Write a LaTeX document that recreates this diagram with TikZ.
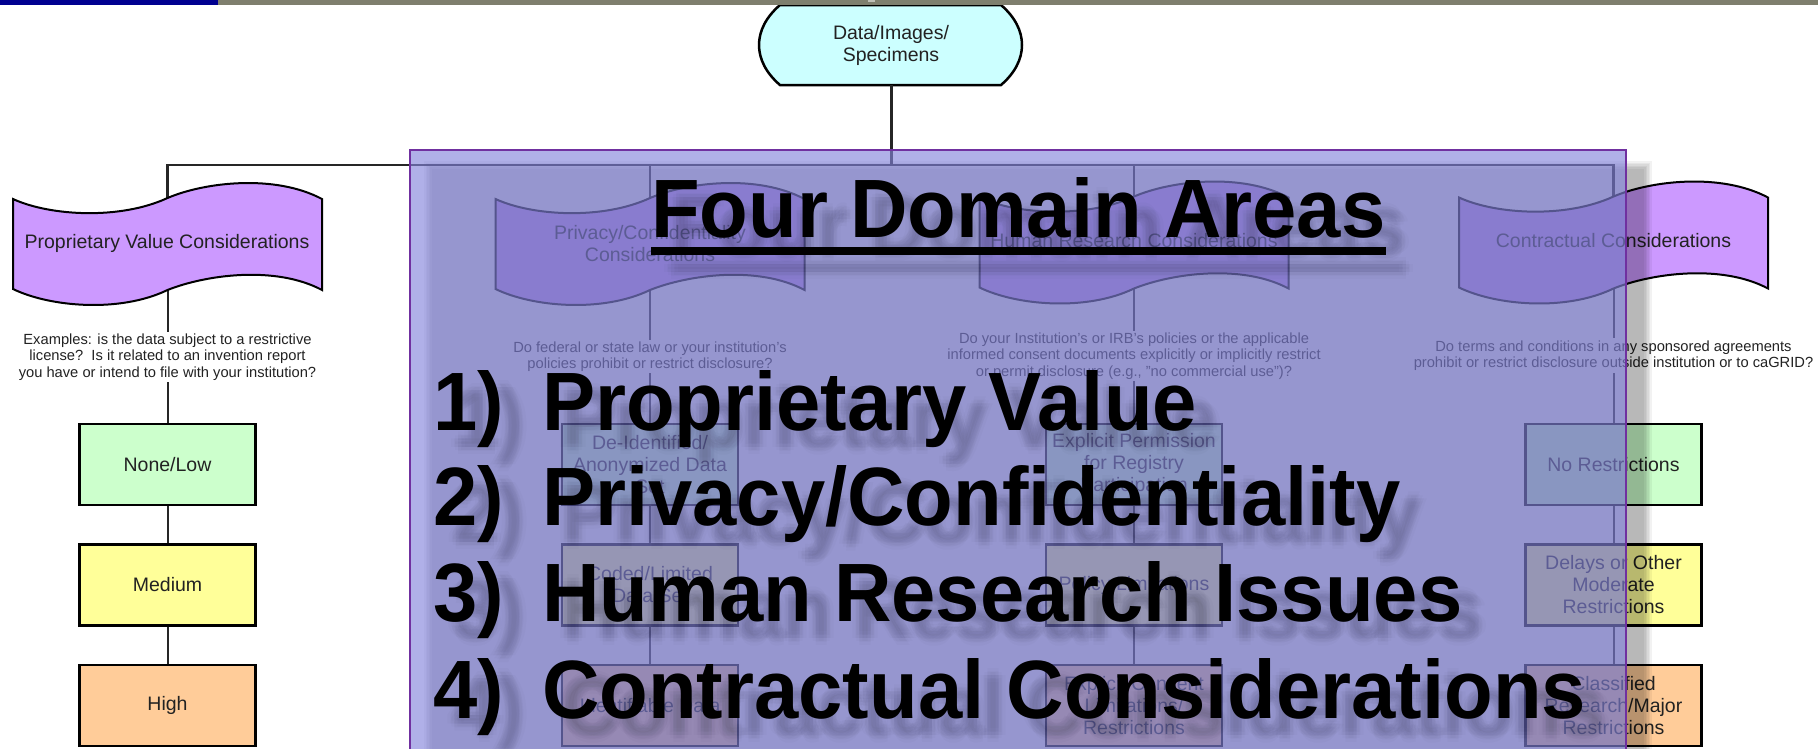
\documentclass[tikz,border=0pt]{standalone}
\usepackage{fontspec}
\usepackage{graphicx}
\setmainfont{Liberation Sans}
\definecolor{termfill}{HTML}{CCFFFF}
\definecolor{wavefill}{HTML}{CC99FF}
\definecolor{lowfill}{HTML}{CCFFCC}
\definecolor{medfill}{HTML}{FFFF99}
\definecolor{highfill}{HTML}{FFCC99}
\definecolor{navybar}{HTML}{000090}
\definecolor{olivebar}{HTML}{7F7F6E}
\definecolor{veil}{RGB}{132,132,220}
\definecolor{veilline}{HTML}{7030A0}
\definecolor{inktext}{HTML}{222222}
\tikzset{
  labelfont/.style={font=\fontsize{19.5}{22}\selectfont,align=center,text=inktext,inner sep=0pt},
  notefont/.style={font=\fontsize{14.7}{16.3}\selectfont,align=center,text=inktext,inner sep=0pt,minimum width=300pt},
  levelbox/.style={draw=black,line width=2.5pt,labelfont,minimum width=176pt,minimum height=81pt},
  wavelabel/.style={labelfont,minimum width=308pt,minimum height=92pt},
  wireline/.style={draw=black!85,line width=2pt},
  bigtext/.style={font=\fontsize{79.6}{90}\selectfont\bfseries,anchor=base west,inner sep=0pt,text=black},
}
\newcommand{\talltext}[1]{\scalebox{1}[1.04]{#1}}
% wave banner: #1 centre x, #2 centre y
\newcommand{\bannerwave}[2]{%
  \begin{scope}[shift={(#1-154.5,#2-244)}]
  \draw[fill=wavefill,draw=black,line width=2pt,line join=miter]
    (0,199) .. controls (37,216) and (107,220) .. (154.5,198)
            .. controls (192,182) and (262,174) .. (309,199)
    -- (309,290) .. controls (262,265) and (192,275) .. (154.5,290)
            .. controls (107,313) and (37,307) .. (0,289) -- cycle;
  \end{scope}}
\newcommand{\overtext}{%
  \node[bigtext] (title) at (651,237) {\talltext{Four Domain Areas}};
  \fill (651,247) rectangle (1386,255);
  \node[bigtext] (itemone) at (433,430) {\talltext{\makebox[109pt][l]{1)}Proprietary Value}};
  \node[bigtext] (itemtwo) at (433,525.7) {\talltext{\makebox[109pt][l]{2)}Privacy/Confidentiality}};
  \node[bigtext] (itemthree) at (433,621.7) {\talltext{\makebox[109pt][l]{3)}Human Research Issues}};
  \node[bigtext] (itemfour) at (433,718) {\talltext{\makebox[109pt][l]{4)}Contractual Considerations}};
}
\begin{document}
\begin{tikzpicture}[x=1pt,y=-1pt]
\path[use as bounding box,clip] (0,0) rectangle (1818,748);
\fill[white] (0,0) rectangle (1818,748);
% terminator
\draw[fill=termfill,draw=black,line width=2.5pt]
  (780,5) -- (1001,5) .. controls (1015,17) and (1022,31) .. (1022,45)
  .. controls (1022,59) and (1015,73) .. (1001,85) -- (780,85)
  .. controls (766,73) and (759,59) .. (759,45)
  .. controls (759,31) and (766,17) .. (780,5) -- cycle;
\node[labelfont,minimum width=220pt,minimum height=80pt] (source) at (891,45) {Data/Images/\\Specimens};
\coordinate (bus) at (891,165);
% named wave anchors
\node[wavelabel] (wavea) at (167.5,244) {};
\node[wavelabel] (waveb) at (650,244) {};
\node[wavelabel] (wavec) at (1134,242.5) {};
\node[wavelabel] (waved) at (1613.5,242.5) {};
% notes
\node[notefont,minimum height=50pt] (notea) at (167.5,357) {Examples: is the data subject to a restrictive\\license?\ \ Is it related to an invention report\\you have or intend to file with your institution?};
\node[notefont,minimum height=33pt] (noteb) at (650,356.5) {Do federal or state law or your institution's\\policies prohibit or restrict disclosure?};
\node[notefont,minimum height=50pt] (notec) at (1134,356) {Do your Institution's or IRB's policies or the applicable\\informed consent documents explicitly or implicitly restrict\\or permit disclosure (e.g., "no commercial use")?};
\node[notefont,minimum height=35pt] (noted) at (1613.5,355.5) {Do terms and conditions in any sponsored agreements\\prohibit or restrict disclosure outside institution or to caGRID?};
% boxes
\foreach \col/\c/\ta/\tb/\tc in {
  a/167.5/None{/}Low/Medium/High,
  b/650/De-Identified{/}\\Anonymized Data\\Set/Coded{/}Limited\\Data Set/Identifiable Data,
  c/1134/Explicit Permission\\for Registry\\Participation/Policy Limitations/Explicit Consent\\Limitations{/}\\Restrictions,
  d/1613.5/No Restrictions/Delays or Other\\Moderate\\Restrictions/Classified\\Research{/}Major\\Restrictions}{
  \node[levelbox,fill=lowfill] (\col one) at (\c,464.5) {\ta};
  \node[levelbox,fill=medfill] (\col two) at (\c,585) {\tb};
  \node[levelbox,fill=highfill] (\col three) at (\c,705.5) {\tc};
}
% connectors
\draw[wireline,line width=3pt] (source.south) -- (bus);
\draw[wireline,line width=2.5pt] (wavea.north) |- (bus) -| (waved.north);
\draw[wireline,line width=2.5pt] (waveb.north |- bus) -- (waveb.north);
\draw[wireline,line width=2.5pt] (wavec.north |- bus) -- (wavec.north);
\foreach \col in {a,b,c,d}{
  \draw[wireline] (wave\col.south) -- (note\col.north);
  \draw[wireline] (note\col.south) -- (\col one.north);
  \draw[wireline] (\col one.south) -- (\col two.north);
  \draw[wireline] (\col two.south) -- (\col three.north);
}
% waves over connectors
\bannerwave{167.5}{244}
\bannerwave{650}{244}
\bannerwave{1134}{242.5}
\bannerwave{1613.5}{242.5}
\node[labelfont] (labela) at (167,243) {Proprietary Value Considerations};
\node[labelfont] (labelb) at (650,244) {Privacy/Confidentiality\\Considerations};
\node[labelfont] (labelc) at (1134,241) {Human Research Considerations};
\node[labelfont] (labeld) at (1613.5,241) {Contractual Considerations};
% top bar
\fill[olivebar] (218,0) rectangle (1818,5);
\fill[navybar] (0,0) rectangle (218,5);
\fill[white,opacity=.5] (868,0) rectangle (875,1.5);
% blurred shadow of the veil
\foreach \g in {-4,-2.4,-0.8,0.8,2.4,4}{
  \fill[black,opacity=.05] (428+\g,165+\g) rectangle (1648-\g,760);
}
% veil
\draw[draw=veilline,line width=2pt,fill=veil,fill opacity=.64] (410,150) rectangle (1626,760);
% blurred shadow of the big text
\foreach \dx/\dy in {20/17,16/17,24/17,20/13,20/21,17/14,23/14,17/20,23/20,13/17,27/17,20/10,20/24}{
  \begin{scope}[shift={(\dx,\dy)},text opacity=.014,fill opacity=.014]
    \overtext
  \end{scope}
}
\overtext
\end{tikzpicture}
\end{document}
